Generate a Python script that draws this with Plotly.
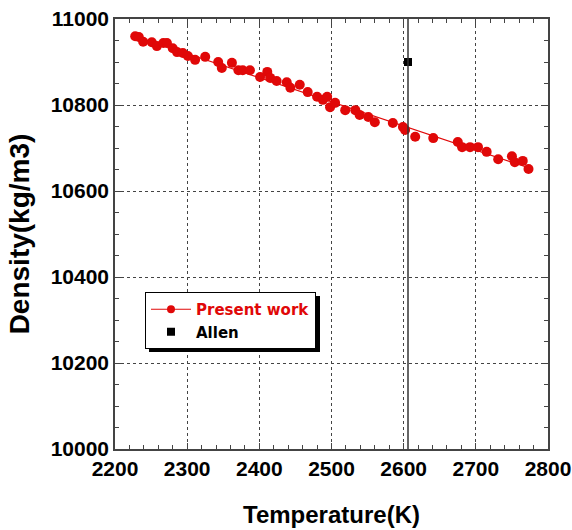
import plotly.graph_objects as go

# Present work (measured points)
temp_present = [2228, 2233, 2239, 2251, 2258, 2267, 2272, 2280, 2286, 2294,
                2301, 2311, 2325, 2343, 2348, 2362, 2371, 2377, 2387, 2401,
                2411, 2415, 2424, 2438, 2443, 2456, 2467, 2480, 2488, 2494,
                2498, 2505, 2519, 2533, 2539, 2551, 2560, 2585, 2599, 2602,
                2616, 2641, 2675, 2681, 2692, 2703, 2715, 2731, 2750, 2754,
                2765, 2773]
dens_present = [10960, 10958, 10947, 10946, 10937, 10944, 10944, 10932, 10923, 10921,
                10914, 10905, 10912, 10900, 10886, 10898, 10881, 10881, 10881, 10865,
                10877, 10863, 10856, 10853, 10840, 10847, 10830, 10819, 10812, 10819,
                10795, 10805, 10788, 10788, 10777, 10772, 10760, 10758, 10749, 10742,
                10726, 10723, 10714, 10702, 10702, 10702, 10691, 10674, 10681, 10667,
                10670, 10651]

# Linear fit line
temp_fit = [2228, 2775]
dens_fit = [10960, 10653]

# Allen
temp_allen = [2606]
dens_allen = [10900]
allen_line_T = 2606

x_ticks = [2200, 2300, 2400, 2500, 2600, 2700, 2800]
y_ticks = [10000, 10200, 10400, 10600, 10800, 11000]

RED = "#e00808"
FONT = "Liberation Sans"

fig = go.Figure()

fig.add_trace(go.Scatter(x=temp_fit, y=dens_fit, mode="lines",
                         line=dict(color=RED, width=1.2), showlegend=False,
                         hoverinfo="skip"))
fig.add_trace(go.Scatter(x=temp_present, y=dens_present, mode="markers",
                         marker=dict(color=RED, size=10, symbol="circle"),
                         showlegend=False))
# legend entry for present work (line + symbol)
fig.add_trace(go.Scatter(x=[None], y=[None], mode="lines+markers",
                         line=dict(color=RED, width=1.2),
                         marker=dict(color=RED, size=8, symbol="circle"),
                         name="<span style='color:#e00808'>Present work</span>"))
fig.add_trace(go.Scatter(x=temp_allen, y=dens_allen, mode="markers",
                         marker=dict(color="black", size=8, symbol="square"),
                         name="Allen"))

# vertical line at Allen's temperature
fig.add_shape(type="line", x0=allen_line_T, x1=allen_line_T, y0=0, y1=1,
              xref="x", yref="paper", line=dict(color="#333333", width=1.5),
              layer="above")

W, H = 572, 530
ml, mr, mt, mb = 115, 24, 19, 81
pw, ph = W - ml - mr, H - mt - mb

def px(xp):
    return (xp - ml) / pw

def py(yp):
    return (H - mb - yp) / ph

# legend shadow
lx0, ly1 = 145, 292
lw, lh = 171, 56
fig.add_shape(type="rect", xref="paper", yref="paper",
              x0=px(lx0 + 4), x1=px(lx0 + lw + 4),
              y0=py(ly1 + lh + 4), y1=py(ly1 + 4),
              fillcolor="black", line=dict(width=0), layer="above")

axis_common = dict(
    showline=True, linecolor="#444444", linewidth=1.5, mirror="ticks",
    ticks="inside", ticklen=6, tickwidth=1, tickcolor="#444444",
    showgrid=True, gridcolor="#444444", griddash="dot", gridwidth=1,
    zeroline=False, automargin=False,
    tickfont=dict(family=FONT, size=21, color="black", weight="bold"),
)

fig.update_xaxes(range=[2200, 2800], tickvals=x_ticks,
                 ticktext=[str(v) for v in x_ticks],
                 minor=dict(dtick=20, ticks="inside", ticklen=4,
                            tickcolor="#444444", showgrid=False),
                 title=dict(text="<b>Temperature(K)</b>",
                            font=dict(family=FONT, size=24, color="black"),
                            standoff=27),
                 **axis_common)
fig.update_yaxes(range=[10000, 11000], tickvals=y_ticks,
                 ticktext=[str(v) for v in y_ticks],
                 minor=dict(dtick=50, ticks="inside", ticklen=4,
                            tickcolor="#444444", showgrid=False),
                 title=dict(text="<b>Density(kg/m3)</b>",
                            font=dict(family=FONT, size=28, color="black"),
                            standoff=13),
                 **axis_common)

fig.update_layout(
    width=W, height=H,
    margin=dict(l=ml, r=mr, t=mt, b=mb),
    plot_bgcolor="white", paper_bgcolor="white",
    showlegend=True,
    legend=dict(x=px(lx0), y=py(ly1), xanchor="left", yanchor="top",
                bgcolor="white", bordercolor="black", borderwidth=1,
                font=dict(family="DejaVu Sans", size=15, color="black",
                          weight="bold"),
                itemwidth=40, tracegroupgap=0),
)

fig.write_html("out.html")
